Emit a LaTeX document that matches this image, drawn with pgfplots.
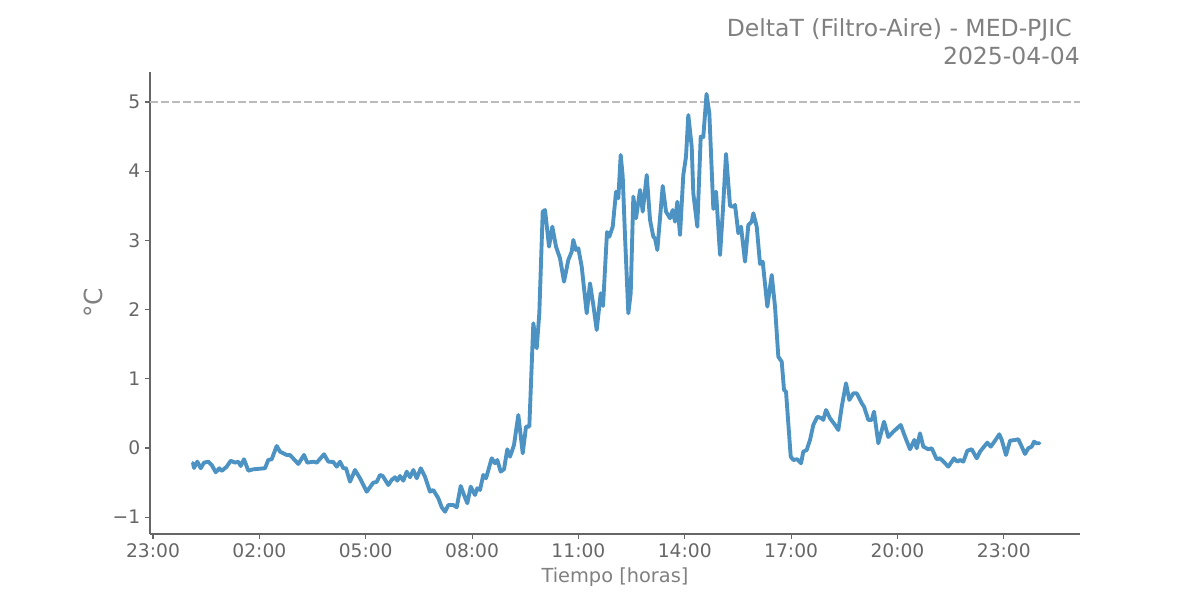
\documentclass[border=0pt]{standalone}
\usepackage{fontspec}
\setmainfont{DejaVu Sans}
\usepackage{pgfplots}
\usepackage{pgfplotstable}
\pgfplotsset{compat=1.18}
\definecolor{lineblue}{RGB}{76,146,195}
\definecolor{spinegray}{RGB}{102,102,102}
\definecolor{textgray}{RGB}{128,128,128}
\definecolor{dashgray}{RGB}{187,187,187}
\pgfplotstableread{
h v
0.128 -0.217
0.157 -0.289
0.250 -0.198
0.346 -0.293
0.439 -0.212
0.560 -0.198
0.656 -0.246
0.769 -0.351
0.870 -0.293
0.938 -0.332
1.079 -0.270
1.192 -0.184
1.313 -0.212
1.406 -0.198
1.474 -0.260
1.567 -0.163
1.688 -0.328
1.829 -0.308
2.159 -0.293
2.252 -0.173
2.348 -0.163
2.489 0.029
2.582 -0.053
2.771 -0.101
2.864 -0.101
3.099 -0.231
3.259 -0.101
3.352 -0.212
3.522 -0.198
3.618 -0.212
3.824 -0.091
3.945 -0.198
4.086 -0.202
4.182 -0.270
4.275 -0.198
4.368 -0.293
4.444 -0.293
4.557 -0.487
4.698 -0.318
4.839 -0.438
5.028 -0.632
5.214 -0.501
5.310 -0.491
5.403 -0.390
5.480 -0.405
5.638 -0.535
5.733 -0.462
5.827 -0.423
5.891 -0.473
5.968 -0.405
6.061 -0.473
6.157 -0.342
6.250 -0.423
6.343 -0.318
6.439 -0.438
6.552 -0.293
6.673 -0.415
6.814 -0.632
6.907 -0.607
7.048 -0.727
7.144 -0.857
7.237 -0.921
7.330 -0.824
7.471 -0.824
7.567 -0.857
7.680 -0.549
7.773 -0.679
7.866 -0.799
7.962 -0.559
8.083 -0.679
8.148 -0.582
8.224 -0.607
8.317 -0.390
8.394 -0.438
8.554 -0.149
8.647 -0.221
8.712 -0.173
8.808 -0.342
8.901 -0.308
8.994 -0.019
9.071 -0.126
9.183 0.043
9.305 0.477
9.429 -0.077
9.522 0.308
9.615 0.308
9.728 1.802
9.824 1.441
9.897 1.946
9.993 3.415
10.058 3.439
10.171 2.909
10.264 3.198
10.368 2.909
10.481 2.741
10.594 2.403
10.715 2.717
10.811 2.837
10.856 3.006
10.932 2.861
10.997 2.886
11.093 2.620
11.234 1.946
11.327 2.380
11.420 2.066
11.516 1.705
11.629 2.236
11.694 2.052
11.807 3.121
11.872 3.053
11.968 3.198
12.061 3.704
12.126 3.608
12.193 4.234
12.250 3.921
12.315 3.053
12.408 1.946
12.475 2.236
12.549 3.632
12.625 3.319
12.738 3.728
12.814 3.415
12.927 3.945
13.020 3.295
13.113 3.053
13.161 3.030
13.226 2.861
13.378 3.786
13.471 3.415
13.584 3.319
13.660 3.439
13.725 3.270
13.790 3.559
13.866 3.078
13.959 3.945
14.035 4.210
14.100 4.812
14.196 4.354
14.241 3.681
14.354 3.198
14.450 4.499
14.523 4.494
14.614 5.116
14.693 4.837
14.806 3.454
14.882 3.704
14.995 2.789
15.071 3.392
15.164 4.249
15.277 3.497
15.370 3.487
15.418 3.512
15.511 3.103
15.587 3.198
15.700 2.692
15.793 3.223
15.889 3.270
15.934 3.392
16.030 3.198
16.123 2.659
16.199 2.692
16.329 2.042
16.453 2.500
16.546 2.042
16.639 1.319
16.735 1.247
16.800 0.838
16.856 0.814
16.989 -0.126
17.062 -0.173
17.175 -0.163
17.280 -0.221
17.344 -0.053
17.440 -0.029
17.533 0.116
17.626 0.332
17.739 0.452
17.863 0.429
17.909 0.405
17.985 0.549
18.098 0.429
18.239 0.332
18.332 0.260
18.428 0.597
18.549 0.935
18.642 0.694
18.755 0.790
18.851 0.790
18.992 0.646
19.057 0.597
19.178 0.405
19.274 0.405
19.339 0.525
19.460 0.068
19.621 0.380
19.742 0.159
19.883 0.236
20.092 0.332
20.213 0.163
20.354 -0.019
20.476 0.116
20.543 -0.004
20.636 0.212
20.729 0.019
20.870 -0.019
20.966 -0.004
21.107 -0.163
21.201 -0.149
21.342 -0.221
21.435 -0.270
21.595 -0.149
21.689 -0.198
21.765 -0.173
21.858 -0.198
21.971 -0.039
22.095 -0.019
22.236 -0.149
22.329 -0.053
22.442 0.019
22.535 0.077
22.631 0.019
22.752 0.105
22.873 0.198
22.941 0.116
23.062 -0.101
23.175 0.105
23.316 0.116
23.409 0.126
23.505 0.019
23.598 -0.087
23.691 -0.004
23.787 0.019
23.852 0.091
23.928 0.068
24.002 0.068
}\deltaT
\begin{document}
\begin{tikzpicture}
\begin{axis}[
  scale only axis, width=672.1pt, height=333.9pt,
  xmin=-1.085, xmax=25.15, ymin=-1.243, ymax=5.434,
  axis x line*=bottom, axis y line*=left,
  x axis line style={-}, y axis line style={-},
  axis line style={spinegray, line width=0.8pt},
  xtick={-1,2,5,8,11,14,17,20,23},
  xticklabels={23:00,02:00,05:00,08:00,11:00,14:00,17:00,20:00,23:00},
  ytick={-1,0,1,2,3,4,5},
  yticklabels={−1,0,1,2,3,4,5},
  tick align=outside, major tick length=3.5pt,
  tick style={spinegray, line width=0.8pt},
  ticklabel style={font=\fontsize{13.5}{16.2}\selectfont, text=spinegray},
  clip=false,
]
\addplot[dashgray, dash pattern=on 5.55pt off 2.4pt, line width=1.5pt] coordinates {(-1.085,5) (25.15,5)};
\addplot[lineblue, line width=2.8pt, line join=round, line cap=round] table[x=h, y=v] {\deltaT};
\coordinate (SW) at (rel axis cs:0,0);
\coordinate (NE) at (rel axis cs:1,1);
\coordinate (LM) at (rel axis cs:0,0.5);
\coordinate (BM) at (rel axis cs:0.5,0);
\end{axis}
\node[anchor=base east, inner sep=0pt, text=textgray, font=\fontsize{17}{20.4}\selectfont] at ([yshift=5.4pt]NE) {2025-04-04};
\node[anchor=base east, inner sep=0pt, text=textgray, font=\fontsize{17}{20.4}\selectfont] at ([xshift=-5.8pt,yshift=25.7pt]NE) {DeltaT (Filtro-Aire) - MED-PJIC};
\node[anchor=center, inner sep=0pt, rotate=90, text=textgray, font=\fontsize{18}{21.6}\selectfont] at ([xshift=-41.2pt]LM) {°C};
\node[anchor=center, inner sep=0pt, text=textgray, font=\fontsize{14}{16.8}\selectfont] at ([yshift=-31.1pt]BM) {Tiempo [horas]};
\pgfresetboundingbox
\path[use as bounding box] ([shift={(-108.4pt,-47.7pt)}]SW) rectangle ([shift={(86.7pt,52.0pt)}]NE);
\end{tikzpicture}
\end{document}
